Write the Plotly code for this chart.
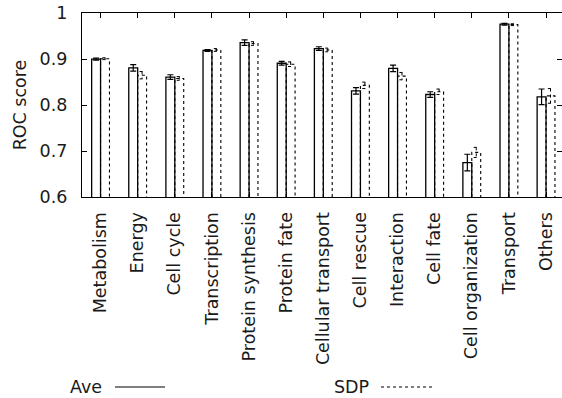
import plotly.graph_objects as go

categories = ["Metabolism", "Energy", "Cell cycle", "Transcription", "Protein synthesis",
              "Protein fate", "Cellular transport", "Cell rescue", "Interaction", "Cell fate",
              "Cell organization", "Transport", "Others"]
ave = [0.900, 0.881, 0.861, 0.919, 0.936, 0.891, 0.923, 0.831, 0.880, 0.823, 0.675, 0.976, 0.818]
ave_err = [0.002, 0.007, 0.005, 0.002, 0.006, 0.004, 0.004, 0.007, 0.007, 0.006, 0.018, 0.002, 0.017]
sdp = [0.901, 0.865, 0.858, 0.920, 0.934, 0.889, 0.920, 0.843, 0.863, 0.829, 0.697, 0.975, 0.820]
sdp_err = [0.002, 0.008, 0.004, 0.003, 0.004, 0.005, 0.004, 0.007, 0.008, 0.006, 0.011, 0.002, 0.016]
y_ticks = [0.6, 0.7, 0.8, 0.9, 1.0]
y_tick_text = ["0.6", "0.7", "0.8", "0.9", "1"]
y_min, y_max = 0.6, 1.0

BW = 0.24   # bar width in category units
CAP = 0.07
FONT = "DejaVu Sans, Liberation Sans, Arial, sans-serif"
FS = 17.5
idx = list(range(len(categories)))

fig = go.Figure()

# Ave bars (solid outline)
fig.add_trace(go.Bar(
    x=[i - BW / 2 for i in idx], y=ave, width=BW,
    marker=dict(color="white", line=dict(color="black", width=1.3)),
    error_y=dict(type="data", array=ave_err, visible=True, color="black", thickness=1.2, width=3),
    showlegend=False, hoverinfo="skip"))

# SDP bars (dashed outline)
sx, sy = [], []
for i, v in zip(idx, sdp):
    sx += [i, i, i + BW, i + BW, None]
    sy += [y_min, v, v, y_min, None]
fig.add_trace(go.Scatter(x=sx, y=sy, mode="lines",
                         line=dict(color="black", width=1.1, dash="dot"),
                         showlegend=False, hoverinfo="skip"))

# SDP error bars (dashed)
ex, ey = [], []
for i, v, e in zip(idx, sdp, sdp_err):
    c = i + BW / 2
    ex += [c - CAP, c + CAP, None, c, c, None, c - CAP, c + CAP, None]
    ey += [v + e, v + e, None, v + e, v - e, None, v - e, v - e, None]
fig.add_trace(go.Scatter(x=ex, y=ey, mode="lines",
                         line=dict(color="black", width=1, dash="dot"),
                         showlegend=False, hoverinfo="skip"))

# invisible trace for the right-hand tick axis
fig.add_trace(go.Scatter(x=[0], y=[y_min], yaxis="y2", mode="markers",
                         marker=dict(opacity=0), showlegend=False, hoverinfo="skip"))

W, H = 562, 398
L, T, B, R = 82, 13, H - 197, 0
PH = H - T - B
PW = W - L - R
y_range = [y_min, y_max + 0.0004]
fig.update_layout(
    width=W, height=H,
    margin=dict(l=L, r=R, t=T, b=B, pad=0, autoexpand=False),
    paper_bgcolor="white", plot_bgcolor="white",
    font=dict(family=FONT, size=FS, color="#1a1a1a"),
    barmode="overlay",
    xaxis=dict(range=[-0.5, 12.43], tickmode="array", tickvals=idx, ticktext=categories,
               tickangle=-90, ticks="inside", ticklen=5, tickcolor="black",
               showline=True, linecolor="black", linewidth=1.2, mirror="ticks",
               showgrid=False, zeroline=False, ticklabelstandoff=7, automargin=False,
               tickfont=dict(size=FS)),
    yaxis=dict(range=y_range, tickmode="array", tickvals=y_ticks, ticktext=y_tick_text,
               ticks="inside", ticklen=5, tickcolor="black",
               showline=True, linecolor="black", linewidth=1.2, mirror=False,
               showgrid=False, zeroline=False, ticklabelstandoff=10, automargin=False,
               ticklabeloverflow="allow",
               title=dict(text="ROC score", standoff=8, font=dict(size=FS)),
               tickfont=dict(size=FS)),
    yaxis2=dict(range=y_range, overlaying="y", side="right", tickmode="array",
                tickvals=y_ticks, ticks="inside", ticklen=5, tickcolor="black",
                showticklabels=False, showline=False,
                showgrid=False, zeroline=False, automargin=False),
)

# legend (text followed by line sample), placed below the axis
def py(y):
    return (T + PH - y) / PH
def px(x):
    return (x - L) / PW
ly = py(387)
fig.add_annotation(x=px(104), y=ly, xref="paper", yref="paper", text="Ave", showarrow=False,
                   xanchor="right", yanchor="middle", font=dict(size=FS))
fig.add_shape(type="line", xref="paper", yref="paper", x0=px(115), x1=px(165), y0=ly, y1=ly,
              line=dict(color="black", width=1.2))
fig.add_annotation(x=px(371), y=ly, xref="paper", yref="paper", text="SDP", showarrow=False,
                   xanchor="right", yanchor="middle", font=dict(size=FS))
fig.add_shape(type="line", xref="paper", yref="paper", x0=px(381), x1=px(432), y0=ly, y1=ly,
              line=dict(color="black", width=1.1, dash="dot"))

fig.write_html("out.html", config={"displayModeBar": False},
               post_script="document.body.style.margin='0';document.body.style.overflow='hidden';")
